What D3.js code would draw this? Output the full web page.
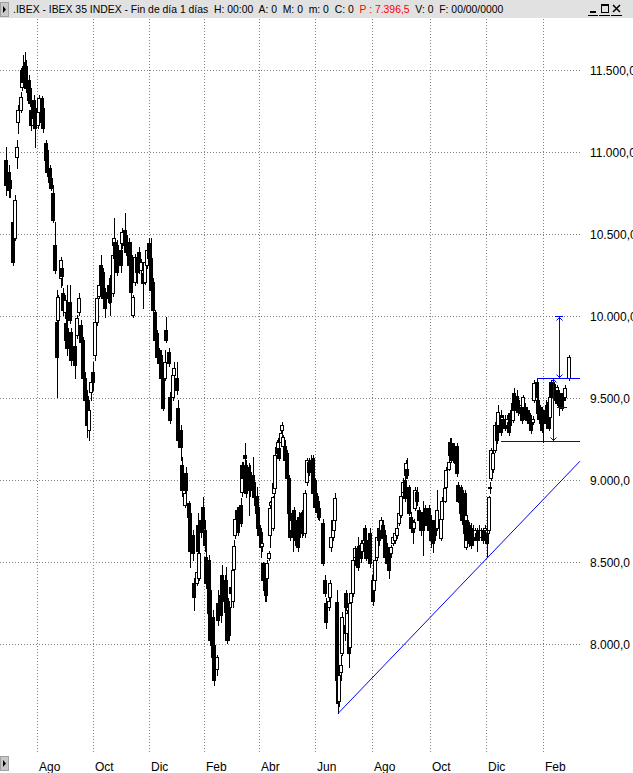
<!DOCTYPE html>
<html><head><meta charset="utf-8">
<script src="https://cdn.jsdelivr.net/npm/d3@7"></script>
<style>
body{margin:0;background:#fff;}
svg{display:block;font-family:"Liberation Sans",Arial,sans-serif;}
</style>
</head><body>
<svg id="chart" width="633" height="773"></svg>
<script>
// ---- data (IBEX 35 daily candles) ----
const days = [
0,2,3,5,7,8,9,11,12,13,
14,15,17,18,19,20,21,22,24,25,
27,28,30,31,33,34,35,37,38,39,
41,42,43,44,45,46,48,49,52,53,
55,56,58,59,61,62,64,65,67,68,
70,71,73,74,77,78,80,81,82,83,
86,87,89,90,92,94,95,97,98,100,
101,103,104,106,107,109,110,112,113,115,
116,118,119,120,122,123,125,126,128,129,
131,132,134,135,137,138,140,141,143,144,
145,146,148,149,150,152,153,155,156,158,
159,161,162,164,165,166,167,169,170,171,
172,173,174,176,177,178,179,180,182,183,
185,186,188,189,190,191,192,193,194,195,
196,197,198,199,200,201,202,203,204,205,
206,207,208,209,211,212,213,214,215,216,
217,219,220,221,222,223,224,226,227,229,
230,232,233,234,235,238,239,240,242,243,
244,245,246,247,248,249,250,251,252,254,
255,256,257,258,259,260,262,263,264,266,
267,269,270,272,273,275,276,277,278,280,
281,283,284,286,287,289,290,292,293,295,
296,298,299,300,301,302,304,305,306,307,
308,310,311,313,314,316,317,319,320,322,
323,326,327,329,330,332,333,334,335,336,
337,338,339,341,342,344,345,346,347,349,
350,352,353,355,356,358,359,361,362,363,
364,365,367,368,369,371,372,373,374,376,
377,378,380,381,383,384,386,387,388,389,
391,392,394,395,396,398,399,400,401,402,
403,405,406,407,408,409,411,412,413,414,
415,417,418,419,422];

const opens = [
10950,10880,10830,10575,10475,10970,11185,11255,11395,11510,
11550,11525,11440,11390,11255,11165,11315,11245,11165,11245,
11330,11270,11055,11010,10900,10840,10750,10430,9965,9975,
10230,10290,10140,10025,9955,9925,10085,9900,9820,9885,
10025,9945,9855,9620,9515,9305,9535,9660,9760,9965,
10125,10310,10270,10145,10190,10160,10140,10430,10450,10430,
10400,10445,10525,10495,10450,10370,10005,10205,10360,10390,
10280,10260,10205,10310,10445,10355,10205,10025,9895,9790,
9760,9690,9625,9915,9780,9505,9505,9640,9620,9440,
9305,9090,8845,9040,8860,8800,8665,8370,8375,8725,
8405,8755,8835,8695,8530,8510,8330,8165,7995,7850,
8250,8300,8420,8360,8390,8280,8225,8345,8265,8460,
8665,8765,8815,8845,8925,9090,9150,9090,9080,9050,
9030,8985,8905,8835,8725,8680,8600,8495,8460,8405,
8405,8525,8665,8845,8705,8920,8950,9200,9165,9195,
9230,9305,9210,9210,9165,9015,8800,8695,8765,8815,
8755,8710,8775,8695,8800,8745,8675,8985,9110,9120,
9135,9000,8895,8875,8830,8735,8390,8250,8225,8285,
8590,8650,8695,8755,8255,7780,7655,7830,7945,8115,
8310,8065,8065,7980,8255,8310,8530,8585,8570,8605,
8570,8710,8635,8540,8675,8390,8330,8390,8530,8710,
8695,8725,8665,8590,8555,8555,8615,8635,8665,8735,
8785,8925,9000,9030,9070,8955,8775,8725,8705,8830,
8925,8815,8775,8805,8830,8800,8830,8755,8710,8755,
8710,8645,8765,8875,8955,9070,9150,9225,9200,9200,
9165,9210,8970,8955,8940,8920,8590,8755,8725,8710,
8695,8650,8675,8695,8650,8695,8695,8675,8695,8955,
9010,9070,9180,9335,9335,9395,9355,9375,9365,9335,
9355,9410,9365,9530,9515,9485,9410,9445,9445,9445,
9425,9410,9375,9355,9485,9595,9485,9455,9425,9425,
9395,9425,9455,9410,9385,9595,9580,9560,9530,9550,
9530,9485,9530,9505,9620];

const highs = [
11030,10920,10870,10660,10740,11075,11285,11365,11525,11590,
11610,11560,11470,11415,11315,11270,11350,11285,11295,11350,
11340,11305,11075,11035,10920,10880,10800,10575,10160,10130,
10360,10340,10170,10130,10095,10190,10190,9925,9885,10005,
10140,9975,9875,9660,9550,9485,9660,9720,9985,10140,
10205,10370,10290,10170,10230,10250,10400,10595,10475,10465,
10465,10535,10630,10525,10475,10450,10130,10380,10385,10420,
10345,10280,10355,10420,10475,10475,10230,10035,9915,9805,
9790,9700,9790,9995,9805,9535,9660,9720,9720,9485,
9335,9140,8950,9080,8875,8815,8695,8400,8460,8800,
8570,8800,8895,8755,8605,8540,8360,8205,8025,7930,
8330,8360,8480,8420,8470,8330,8265,8450,8460,8635,
8800,8835,8835,8890,9110,9110,9225,9120,9105,9090,
9140,9010,8955,8875,8755,8710,8635,8500,8480,8440,
8510,8570,8875,8875,8905,9000,9180,9245,9255,9210,
9305,9355,9275,9245,9180,9030,8815,8785,8805,8835,
8785,8745,8805,8805,8815,8765,8940,9135,9135,9150,
9150,9010,8920,8905,8845,8765,8420,8280,8280,8390,
8755,8725,8785,8920,8330,7810,7840,7930,8195,8235,
8330,8205,8115,8265,8330,8530,8600,8600,8650,8635,
8635,8725,8665,8665,8705,8420,8450,8540,8675,8745,
8775,8755,8695,8615,8570,8605,8665,8695,8735,8815,
8925,9010,9060,9120,9135,8970,8805,8755,8765,8955,
8955,8835,8800,8875,8845,8830,8845,8785,8745,8775,
8940,8785,8895,8970,9080,9120,9255,9255,9225,9225,
9180,9225,8985,8970,8955,8940,8805,8765,8745,8735,
8725,8710,8705,8725,8710,8710,8725,8695,8905,8985,
9195,9180,9355,9365,9455,9425,9395,9395,9395,9395,
9375,9425,9485,9560,9550,9505,9470,9465,9520,9470,
9445,9425,9395,9390,9610,9620,9500,9475,9445,9445,
9425,9485,9475,9425,9520,9610,9595,9585,9580,9565,
9550,9505,9550,9580,9760];

const lows = [
10740,10725,10725,10310,10465,10900,11115,11245,11380,11410,
11440,11365,11300,11280,11135,11145,11165,11030,11145,11205,
11145,11120,10920,10855,10780,10770,10575,10260,9505,9945,
10175,10190,10005,9985,9820,9760,9955,9700,9620,9865,
10005,9820,9610,9425,9260,9245,9485,9550,9730,9945,
10110,10170,10095,9995,10080,10005,10120,10420,10330,10250,
10270,10415,10415,10370,10290,10125,9995,10190,10200,10260,
10250,10050,10195,10290,10340,10140,9930,9840,9730,9695,
9610,9425,9610,9840,9695,9345,9485,9625,9525,9200,
9120,8905,8835,8920,8755,8470,8510,8205,8360,8540,
8390,8650,8680,8570,8340,8165,7995,7840,7750,7810,
8115,8135,8255,8205,8165,8005,8025,8225,8225,8440,
8645,8755,8665,8720,8905,8970,9090,8895,8785,8905,
8925,8845,8775,8695,8635,8530,8570,8370,8265,8265,
8390,8510,8590,8835,8695,8905,8940,9150,9150,9120,
9220,9290,9200,9105,9000,8785,8635,8665,8570,8665,
8605,8570,8635,8675,8650,8665,8650,8970,9030,9040,
8905,8815,8785,8765,8755,8480,8290,8100,8205,8265,
8570,8635,8665,8725,7640,7580,7620,7780,7930,8025,
8205,8025,7860,7960,8235,8295,8510,8470,8450,8500,
8555,8605,8510,8525,8470,8235,8295,8370,8510,8605,
8680,8635,8510,8475,8405,8530,8605,8615,8645,8725,
8775,8905,8875,9010,9010,8785,8695,8615,8695,8815,
8845,8745,8665,8540,8745,8705,8675,8590,8560,8635,
8695,8635,8755,8865,8940,9060,9140,9110,9110,9105,
9090,9025,8865,8780,8730,8655,8580,8615,8595,8585,
8605,8635,8570,8635,8635,8615,8665,8530,8675,8920,
9000,9050,9170,9225,9315,9275,9335,9315,9305,9315,
9275,9315,9355,9410,9440,9395,9365,9345,9430,9365,
9355,9330,9285,9340,9475,9485,9390,9365,9330,9290,
9230,9320,9345,9305,9370,9485,9510,9470,9515,9450,
9395,9425,9470,9485,9610];

const closes = [
10800,10770,10780,10330,10705,11030,11255,11335,11500,11425,
11450,11390,11315,11300,11165,11245,11205,11145,11270,11330,
11185,11145,10950,10880,10815,10780,10585,10280,9750,10115,
10340,10245,10035,10095,9855,9805,9975,9730,9700,9985,
10110,9840,9620,9485,9335,9425,9595,9595,9965,10110,
10190,10190,10110,10050,10110,10085,10370,10475,10355,10270,
10310,10510,10430,10390,10310,10145,10115,10360,10270,10280,
10330,10200,10330,10400,10355,10160,10035,9855,9750,9715,
9625,9440,9720,9855,9715,9365,9640,9680,9550,9245,
9200,8940,8920,8940,8775,8570,8555,8285,8440,8570,
8555,8680,8705,8605,8370,8190,8025,7920,7780,7920,
8145,8175,8280,8265,8195,8025,8055,8310,8450,8600,
8765,8815,8680,8735,9090,9010,9135,8920,9000,8940,
8955,8895,8800,8710,8665,8590,8615,8390,8330,8300,
8495,8555,8830,8865,8895,8980,9150,9165,9230,9135,
9285,9335,9260,9120,9015,8800,8650,8755,8650,8695,
8635,8590,8650,8775,8675,8675,8920,9120,9050,9060,
8920,8835,8805,8815,8775,8495,8310,8135,8265,8370,
8650,8695,8755,8890,7780,7640,7810,7870,8165,8070,
8225,8190,7945,8250,8310,8510,8585,8480,8470,8525,
8615,8635,8525,8635,8495,8265,8420,8510,8650,8635,
8755,8645,8530,8495,8450,8590,8650,8675,8710,8800,
8905,8985,8890,9105,9030,8800,8710,8680,8745,8940,
8875,8755,8695,8695,8765,8725,8695,8635,8615,8665,
8815,8765,8875,8950,9060,9110,9230,9120,9135,9120,
9110,9040,8875,8800,8755,8675,8785,8635,8615,8605,
8635,8695,8635,8650,8695,8635,8710,8615,8895,8950,
9180,9165,9335,9245,9415,9290,9385,9335,9315,9375,
9290,9335,9470,9425,9455,9415,9455,9365,9505,9375,
9365,9345,9305,9375,9590,9505,9410,9375,9345,9305,
9365,9345,9365,9315,9505,9505,9530,9485,9565,9470,
9455,9440,9485,9560,9750];

const priceTicks = [8000, 8500, 9000, 9500, 10000, 10500, 11000, 11500];
const monthTickDays = [23, 65, 107, 148.5, 190, 232, 274.5, 318, 360, 403];
const monthLabels = ["Ago", "Oct", "Dic", "Feb", "Abr", "Jun", "Ago", "Oct", "Dic", "Feb"];

// drawn analysis objects (day, price)
const trendLine = [[249.2, 7578], [430.5, 9115]];
const supportLine = [[371, 9236], [430.5, 9236]];
const resistanceLine = [[398.5, 9620], [430.5, 9620]];
const rangeMeasure = [[410, 9620], [410, 9236]];
const targetMeasure = [[415, 9620], [415, 9997]];
const targetCap = [[412, 9997], [418, 9997]];
const midMark = [[413, 9444], [420.5, 9444]];

// ---- drawing ----
const W = 633, H = 773;
const svg = d3.select("#chart");
svg.append("rect").attr("width", W).attr("height", H).attr("fill", "#fff");

const x = d3.scaleLinear().domain([0, 422]).range([6, 568.7]);
const y = d3.scaleLinear().domain([8000, 11500]).range([644, 70]);

// grid
const grid = svg.append("g").attr("stroke", "#808080").attr("stroke-width", 1).attr("stroke-dasharray", "1,2")
  .attr("shape-rendering", "crispEdges");
grid.selectAll("line.h").data(priceTicks).join("line").attr("class", "h")
  .attr("x1", 0).attr("x2", 581)
  .attr("y1", d => Math.round(y(d)) + 0.5).attr("y2", d => Math.round(y(d)) + 0.5);
grid.selectAll("line.v").data(monthTickDays).join("line").attr("class", "v")
  .attr("x1", d => Math.round(x(d)) + 0.5).attr("x2", d => Math.round(x(d)) + 0.5)
  .attr("y1", 19).attr("y2", 753);

// candles
const candles = days.map((d, i) => ({d, o: opens[i], h: highs[i], l: lows[i], c: closes[i]}));
const cg = svg.append("g").attr("shape-rendering", "crispEdges");
candles.forEach(k => {
  const cx = Math.round(x(k.d));
  cg.append("line").attr("x1", cx + 0.5).attr("x2", cx + 0.5)
    .attr("y1", Math.round(y(k.h))).attr("y2", Math.round(y(k.l)) + 1)
    .attr("stroke", "#000").attr("stroke-width", 1);
  const top = Math.round(y(Math.max(k.o, k.c)));
  const bot = Math.round(y(Math.min(k.o, k.c)));
  const up = k.c >= k.o;
  cg.append("rect").attr("x", cx - 1.5).attr("y", top + 0.5)
    .attr("width", 3).attr("height", Math.max(1, bot - top))
    .attr("fill", up ? "#fff" : "#000").attr("stroke", "#000").attr("stroke-width", 1);
});

// blue analysis drawings
const blue = svg.append("g").attr("stroke", "#0000ff").attr("stroke-width", 1).attr("fill", "none");
blue.append("line")
  .attr("x1", x(trendLine[0][0])).attr("y1", y(trendLine[0][1]))
  .attr("x2", x(trendLine[1][0])).attr("y2", y(trendLine[1][1]));
[supportLine, resistanceLine, midMark, targetCap].forEach(p => blue.append("line")
  .attr("shape-rendering", "crispEdges")
  .attr("x1", x(p[0][0])).attr("x2", x(p[1][0]))
  .attr("y1", Math.round(y(p[0][1])) + 0.5).attr("y2", Math.round(y(p[1][1])) + 0.5));
[rangeMeasure, targetMeasure].forEach(p => {
  const xx = Math.round(x(p[0][0])) + 0.5;
  const y1 = Math.round(y(p[0][1])) + 0.5, y2 = Math.round(y(p[1][1])) + 0.5;
  blue.append("line").attr("shape-rendering", "crispEdges").attr("x1", xx).attr("x2", xx).attr("y1", y1).attr("y2", y2);
  const dir = y2 > y1 ? 1 : -1;
  blue.append("path").attr("d", `M${xx - 3},${y1 + 4 * dir}L${xx},${y1 + 1 * dir}L${xx + 3},${y1 + 4 * dir}`);
  blue.append("path").attr("d", `M${xx - 3},${y2 - 4 * dir}L${xx},${y2 - 1 * dir}L${xx + 3},${y2 - 4 * dir}`);
});

// price axis labels (Spanish number format)
const es = d3.formatLocale({decimal: ",", thousands: ".", grouping: [3], currency: ["", " €"]});
const fmt = es.format(",.1f");
const yAxis = svg.append("g").attr("transform", "translate(590,0)")
  .call(d3.axisRight(y).tickValues(priceTicks).tickFormat(fmt).tickSize(0).tickPadding(0));
yAxis.select(".domain").remove();
yAxis.selectAll("text").attr("font-family", "'Liberation Sans', Arial, sans-serif")
  .attr("font-size", 12).attr("fill", "#000").attr("dy", "0.36em");

// month labels
svg.append("g").selectAll("text").data(monthTickDays).join("text")
  .attr("x", d => Math.round(x(d)) + 2).attr("y", 771)
  .attr("font-size", 12).attr("fill", "#000")
  .text((d, i) => monthLabels[i]);

// header bar
svg.append("rect").attr("x", 0).attr("y", 0).attr("width", W).attr("height", 18).attr("fill", "#e1e1e1");
const btn = (yy) => {
  svg.append("rect").attr("x", 0.5).attr("y", yy + 0.5).attr("width", 8).attr("height", 14)
    .attr("fill", "#c8c8c8").attr("stroke", "#a0a0a0");
  svg.append("path").attr("d", `M3,${yy + 4}L6,${yy + 7.5}L3,${yy + 11}Z`).attr("fill", "#000");
};
btn(2);
btn(756);
const title = svg.append("text").attr("x", 13).attr("y", 13).attr("font-size", 10.4).attr("fill", "#000")
  .attr("xml:space", "preserve");
title.append("tspan").text(".IBEX - IBEX 35 INDEX - Fin de día 1 días  H: 00:00  A: 0  M: 0  m: 0  C: 0  ");
title.append("tspan").attr("fill", "#ff0000").text("P : 7.396,5");
title.append("tspan").text("  V: 0  F: 00/00/0000");

// window buttons
const wb = svg.append("g").attr("shape-rendering", "crispEdges");
wb.append("rect").attr("x", 590).attr("y", 11).attr("width", 6).attr("height", 2).attr("fill", "#000");
wb.append("rect").attr("x", 601.5).attr("y", 4.5).attr("width", 7).attr("height", 8).attr("fill", "none").attr("stroke", "#000");
wb.append("rect").attr("x", 601).attr("y", 4).attr("width", 8).attr("height", 2).attr("fill", "#000");
wb.append("path").attr("d", "M613,5L620,12M620,5L613,12").attr("stroke", "#000").attr("stroke-width", 1.5).attr("shape-rendering", "auto");
[[588, 598], [599, 610], [611, 622]].forEach(r => wb.append("line")
  .attr("x1", r[0]).attr("x2", r[1]).attr("y1", 15.5).attr("y2", 15.5).attr("stroke", "#000"));
</script>
</body></html>
